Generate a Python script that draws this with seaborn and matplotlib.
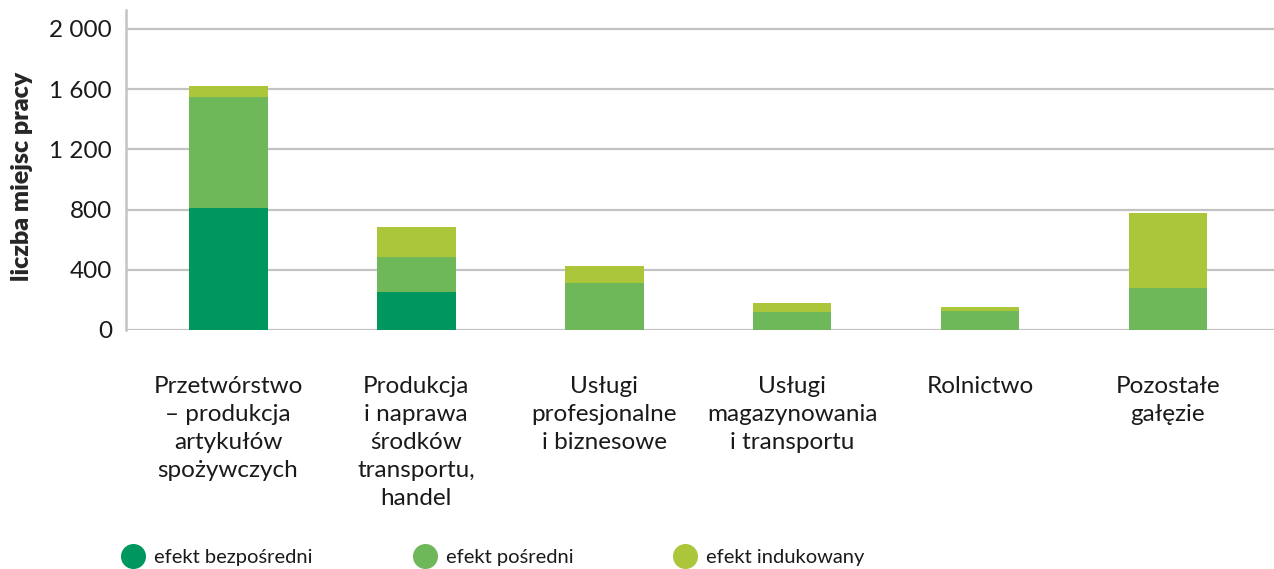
import numpy as np
import pandas as pd
import matplotlib
matplotlib.use("Agg")
import matplotlib.pyplot as plt
from matplotlib.lines import Line2D
import seaborn as sns

# ---------------------------------- data ---------------------------------- #
categories = [
    "Przetwórstwo\n– produkcja\nartykułów\nspożywczych",
    "Produkcja\ni naprawa\nśrodków\ntransportu,\nhandel",
    "Usługi\nprofesjonalne\ni biznesowe",
    "Usługi\nmagazynowania\ni transportu",
    "Rolnictwo",
    "Pozostałe\ngałęzie",
]
direct = [810, 251, 0, 0, 0, 0]
indirect = [740, 233, 314, 121, 125, 279]
induced = [72, 203, 110, 57, 31, 496]

series_names = ["efekt bezpośredni", "efekt pośredni", "efekt indukowany"]
colors = ["#00975F", "#6FB859", "#ABC63A"]

y_ticks = [0, 400, 800, 1200, 1600, 2000]
y_tick_labels = ["0", "400", "800", "1 200", "1 600", "2 000"]
y_label = "liczba miejsc pracy"

# cumulative heights for stacking (draw tallest first)
df = pd.DataFrame({"cat": categories, "direct": direct,
                   "indirect": indirect, "induced": induced})
df["lvl1"] = df["direct"]
df["lvl2"] = df["direct"] + df["indirect"]
df["lvl3"] = df["lvl2"] + df["induced"]

# ---------------------------------- plot ---------------------------------- #
sns.set_style("white")
plt.rcParams["font.family"] = ["Lato", "DejaVu Sans"]

fig = plt.figure(figsize=(12.74, 5.69), dpi=100)
ax = fig.add_axes([126 / 1274, 1 - 330 / 569, 1 - 126 / 1274, (330 - 10) / 569])

for col, c in zip(["lvl3", "lvl2", "lvl1"], colors[::-1]):
    sns.barplot(data=df, x="cat", y=col, color=c, width=0.42,
                saturation=1, ax=ax, edgecolor="none", linewidth=0)

ax.set_xlim(-0.543, 5.564)
ax.set_ylim(0, 2126)
ax.set_yticks(y_ticks)
ax.set_yticklabels(y_tick_labels, fontsize=17.5, color="#1a1a1a")
ax.set_xticks(range(len(categories)))
ax.set_xticklabels(categories, fontsize=17.5, color="#1a1a1a", linespacing=1.42)
ax.tick_params(axis="x", length=0, pad=33)
ax.tick_params(axis="y", length=0, pad=10)
ax.set_xlabel("")
ax.set_ylabel(y_label, fontsize=18, fontweight="heavy")
ax.yaxis.set_label_coords(-0.081, 0.48)

ax.set_axisbelow(True)
ax.yaxis.grid(True, color="#c3c3c3", linewidth=1.6)
for s in ["top", "right", "bottom"]:
    ax.spines[s].set_visible(False)
ax.spines["left"].set_color("#c3c3c3")
ax.spines["left"].set_linewidth(1.8)

handles = [Line2D([0], [0], marker="o", linestyle="none", markersize=17,
                  markerfacecolor=c, markeredgecolor=c) for c in colors]
fig.legend(handles, series_names, loc="lower left", ncol=3,
           bbox_to_anchor=(104 / 1274, -0.026), frameon=False,
           fontsize=14.5, handletextpad=0.5, columnspacing=5.0,
           handlelength=1.1, labelcolor="#1a1a1a")

fig.savefig("out.png", dpi=100)
